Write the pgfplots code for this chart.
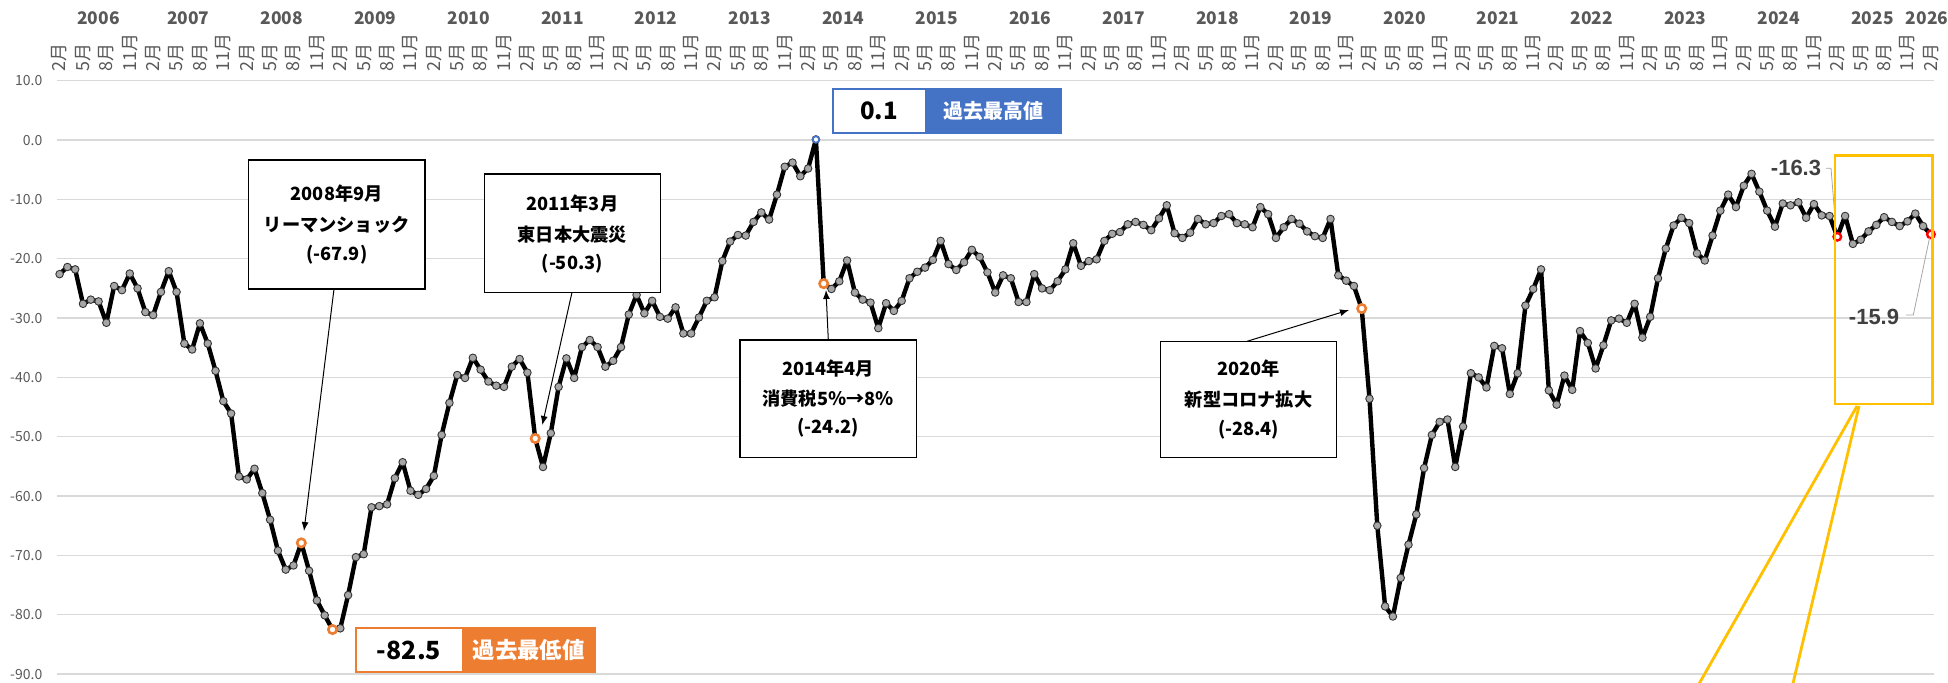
\documentclass[border=0pt]{standalone}
\usepackage{fontspec}
\setmainfont{Noto Sans CJK JP}
\newfontfamily\lib{Liberation Sans}
\usepackage{pgfplots}
\pgfplotsset{compat=1.18}
\usepackage{pgfplotstable}
\usetikzlibrary{arrows.meta}
\definecolor{xorange}{HTML}{ED7D31}
\definecolor{xblue}{HTML}{4472C4}
\definecolor{xyellow}{HTML}{FFC000}
\definecolor{gridc}{HTML}{D9D9D9}
\definecolor{tickc}{HTML}{595959}
\definecolor{markc}{HTML}{A6A6A6}
\definecolor{labc}{HTML}{404040}

\pgfplotstableread[row sep=\\]{
v\\
-22.6\\ -21.4\\ -21.8\\ -27.6\\ -26.9\\ -27.2\\ -30.8\\ -24.6\\ -25.3\\ -22.5\\
-25.0\\ -29.0\\ -29.5\\ -25.6\\ -22.1\\ -25.6\\ -34.3\\ -35.3\\ -30.9\\ -34.3\\
-38.9\\ -44.0\\ -46.1\\ -56.7\\ -57.2\\ -55.4\\ -59.5\\ -64.0\\ -69.2\\ -72.4\\
-71.7\\ -67.9\\ -72.6\\ -77.6\\ -80.1\\ -82.5\\ -82.3\\ -76.7\\ -70.3\\ -69.8\\
-61.9\\ -61.7\\ -61.4\\ -57.0\\ -54.3\\ -59.1\\ -59.8\\ -58.8\\ -56.6\\ -49.7\\
-44.3\\ -39.6\\ -40.1\\ -36.7\\ -38.7\\ -40.7\\ -41.4\\ -41.6\\ -38.2\\ -36.9\\
-39.2\\ -50.3\\ -55.1\\ -49.4\\ -41.6\\ -36.8\\ -40.1\\ -34.9\\ -33.7\\ -34.9\\
-38.2\\ -37.2\\ -34.9\\ -29.4\\ -26.1\\ -29.2\\ -27.1\\ -29.8\\ -30.1\\ -28.2\\
-32.6\\ -32.6\\ -29.9\\ -27.1\\ -26.5\\ -20.4\\ -17.1\\ -16.0\\ -16.1\\ -13.8\\
-12.2\\ -13.4\\ -9.2\\ -4.5\\ -3.8\\ -6.1\\ -4.8\\ 0.1\\ -24.2\\ -25.1\\
-23.8\\ -20.3\\ -25.7\\ -26.9\\ -27.4\\ -31.7\\ -27.5\\ -28.8\\ -27.1\\ -23.3\\
-22.2\\ -21.5\\ -20.2\\ -17.0\\ -20.9\\ -21.9\\ -20.6\\ -18.5\\ -19.7\\ -22.3\\
-25.7\\ -22.8\\ -23.3\\ -27.3\\ -27.3\\ -22.6\\ -25.0\\ -25.3\\ -23.8\\ -21.8\\
-17.4\\ -21.2\\ -20.4\\ -20.1\\ -17.0\\ -15.8\\ -15.5\\ -14.2\\ -13.8\\ -14.3\\
-15.2\\ -13.2\\ -11.0\\ -15.7\\ -16.5\\ -15.6\\ -13.3\\ -14.2\\ -14.0\\ -12.8\\
-12.5\\ -14.0\\ -14.2\\ -14.7\\ -11.3\\ -12.5\\ -16.5\\ -14.7\\ -13.3\\ -14.1\\
-15.4\\ -16.2\\ -16.5\\ -13.3\\ -22.8\\ -23.7\\ -24.6\\ -28.4\\ -43.6\\ -65.0\\
-78.6\\ -80.3\\ -73.8\\ -68.2\\ -63.1\\ -55.3\\ -49.7\\ -47.5\\ -47.1\\ -55.1\\
-48.3\\ -39.3\\ -40.0\\ -41.7\\ -34.7\\ -35.1\\ -42.8\\ -39.3\\ -27.9\\ -25.1\\
-21.8\\ -42.2\\ -44.6\\ -39.7\\ -42.1\\ -32.2\\ -34.2\\ -38.5\\ -34.6\\ -30.4\\
-30.1\\ -30.8\\ -27.6\\ -33.3\\ -29.8\\ -23.3\\ -18.3\\ -14.4\\ -13.1\\ -14.0\\
-19.1\\ -20.3\\ -16.1\\ -11.9\\ -9.2\\ -11.3\\ -7.7\\ -5.7\\ -8.7\\ -11.9\\
-14.6\\ -10.7\\ -11.0\\ -10.5\\ -13.1\\ -10.8\\ -12.7\\ -12.8\\ -16.3\\ -12.8\\
-17.5\\ -16.8\\ -15.4\\ -14.3\\ -13.0\\ -13.8\\ -14.5\\ -13.7\\ -12.4\\ -14.5\\
-15.9\\
}\cidata

\begin{document}
\begin{tikzpicture}
\path[use as bounding box, clip] (0pt,0pt) rectangle (974pt,-341pt);
\begin{axis}[
  at={(28.5pt,-337pt)}, anchor=south west,
  scale only axis, width=938.5pt, height=296.65pt,
  xmin=-0.333, xmax=240.4, ymin=-90, ymax=10,
  axis line style={draw=none},
  major tick length=0pt,
  clip=false,
  ytick={-90,-80,...,10},
  ymajorgrids, grid style={color=gridc, line width=0.65pt},
  yticklabel style={inner sep=0pt, font=\fontsize{7}{8}\selectfont, text=tickc,
    /pgf/number format/.cd, fixed, fixed zerofill, precision=1, assume math mode=true},
  yticklabel shift=7.15pt,
  xtick={0,3,...,240},
  xticklabel pos=upper,
  xticklabel={\pgfmathtruncatemacro{\mo}{2+mod(round(\tick),12)}\mo 月},
  xticklabel style={rotate=90, anchor=west, inner sep=0pt, font=\fontsize{9}{10}\selectfont, text=tickc},
  xticklabel shift=4.6pt,
]
\addplot[black, line width=2.2pt, line join=round, mark=*, mark size=1.9pt,
  mark options={fill=markc, draw=black!80, line width=0.45pt}]
  table[x expr=\coordindex, y=v]{\cidata};
\addplot[only marks, mark=*, mark size=2.1pt, mark options={fill=white, draw=xorange, line width=1.3pt}]
  coordinates {(31,-67.9) (35,-82.5) (61,-50.3) (98,-24.2) (167,-28.4)};
\addplot[only marks, mark=*, mark size=1.6pt, mark options={fill=white, draw=xblue, line width=0.9pt}]
  coordinates {(97,0.1)};
\addplot[only marks, mark=*, mark size=1.9pt, mark options={fill=white, draw=red, line width=1.2pt}]
  coordinates {(228,-16.3) (240,-15.9)};
\end{axis}

\begin{scope}[x=0.5pt, y=-0.5pt]
% year labels
\tikzset{yl/.style={font=\bfseries\fontsize{8.7}{9}\selectfont, text=tickc, inner sep=0pt}}
\node[yl] at ({59.6+7.797*5},18.3) {2006};
\foreach \yr in {2007,...,2025}
  \node[yl] at ({59.6+7.797*(16.5+12*(\yr-2007))},18.3) {\yr};
\node[yl] at ({59.6+7.797*239.5},18.3) {2026};

\tikzset{bt/.style={font=\bfseries\fontsize{9.1}{10}\selectfont, inner sep=0pt}}
% Lehman
\draw[black, line width=0.7pt, fill=white] (248.5,160) rectangle (425,289);
\node[bt] at (336.7,193.3) {2008年9月};
\node[bt] at (336.7,225) {リーマンショック};
\node[bt] at (336.7,255) {(-67.9)};
\draw[line width=0.5pt, -{Latex[length=4.5pt,width=3.5pt]}] (334,289) -- (304,531);
% Tohoku
\draw[black, line width=0.7pt, fill=white] (484.3,174) rectangle (660.3,292.3);
\node[bt] at (572.3,204) {2011年3月};
\node[bt] at (572.3,235) {東日本大震災};
\node[bt] at (572.3,264) {(-50.3)};
\draw[line width=0.5pt, -{Latex[length=4.5pt,width=3.5pt]}] (572,292.3) -- (542.3,425);
% 2014
\draw[black, line width=0.7pt, fill=white] (740,340) rectangle (916.3,457.3);
\node[bt] at (828.2,368.7) {2014年4月};
\node[bt] at (828.2,398.7) {消費税5％→8％};
\node[bt] at (828.2,427.7) {(-24.2)};
\draw[line width=0.5pt, -{Latex[length=4.5pt,width=3.5pt]}] (828.3,340) -- (826,290);
% 2020
\draw[black, line width=0.7pt, fill=white] (1160.5,341.3) rectangle (1336.7,457.3);
\node[bt] at (1248.6,369) {2020年};
\node[bt] at (1248.6,400) {新型コロナ拡大};
\node[bt] at (1248.6,430) {(-28.4)};
\draw[line width=0.5pt, -{Latex[length=4.5pt,width=3.5pt]}] (1247,341.3) -- (1349,310);

% high box
\draw[xblue, line width=1pt, fill=white] (833.3,89.3) rectangle (1060.7,132.7);
\fill[xblue] (925,89.3) rectangle (1060.7,132.7);
\node[font=\bfseries\fontsize{12}{13}\selectfont, inner sep=0pt] at (879,111) {0.1};
\node[font=\bfseries\fontsize{10}{11}\selectfont, text=white, inner sep=0pt] at (993,111) {過去最高値};
% low box
\draw[xorange, line width=1pt, fill=white] (355.7,627.7) rectangle (595,672.3);
\fill[xorange] (462.3,627.7) rectangle (595,672.3);
\node[font=\bfseries\fontsize{12.5}{13}\selectfont, inner sep=0pt] at (409,650) {-82.5};
\node[font=\bfseries\fontsize{11.2}{12}\selectfont, text=white, inner sep=0pt] at (528.7,650) {過去最低値};

% leader labels
\draw[gray!70, line width=0.4pt] (1826,168.3) -- (1831,168.3) -- (1836,231);
\node[font=\lib\bfseries\fontsize{11}{12}\selectfont, text=labc, inner sep=0pt] at (1796,168.3) {-16.3};
\draw[gray!70, line width=0.4pt] (1906,315) -- (1913.3,315) -- (1929.5,238);
\node[font=\lib\bfseries\fontsize{11}{12}\selectfont, text=labc, inner sep=0pt] at (1874,316.7) {-15.9};

% yellow highlight
\draw[xyellow, line width=1.4pt] (1835,155.7) rectangle (1932.3,404);
\draw[xyellow, line width=1.4pt] (1857,406) -- (1695.5,690);
\draw[xyellow, line width=1.4pt] (1859,406) -- (1791.4,690);
\end{scope}
\end{tikzpicture}
\end{document}
